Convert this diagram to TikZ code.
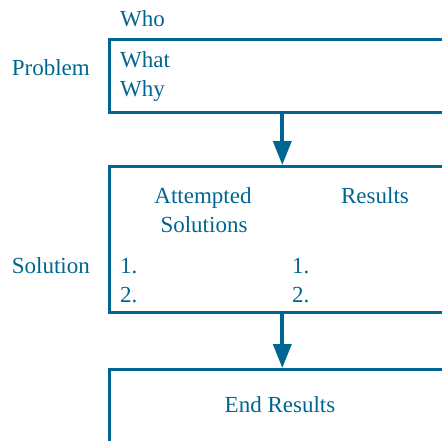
\documentclass[tikz,border=0pt]{standalone}
\usepackage{fontspec}
\setmainfont{Liberation Serif}
\usepackage{tikz}
\usetikzlibrary{arrows.meta}
\definecolor{flowblue}{RGB}{0,102,145}

\begin{document}
\begin{tikzpicture}[x=1pt,y=-1pt,
    box/.style={draw=flowblue,line width=2.6pt,rectangle,minimum width=346pt,inner sep=0pt,anchor=north west},
    lbl/.style={text=flowblue,inner sep=0pt,font=\fontsize{23}{27}\selectfont},
    flowarrow/.style={draw=flowblue,line width=3.8pt,-{Triangle[width=18pt,length=24pt]}}]
\useasboundingbox (0,0) rectangle (442,440);
% the three boxes, cut off on the right
\node[box,minimum height=73pt] (prob) at (108,38) {};
\node[box,minimum height=146pt] (sol) at (108,165) {};
\node[box,minimum height=110pt] (endres) at (108,368) {};
\begin{scope}[every node/.style={lbl}]
    \node[anchor=base west] (who) at (120,26) {Who};
    \node[anchor=base east] (problem) at (90,75) {Problem};
    \node[anchor=base west] (what) at (120,67) {What};
    \node[anchor=base west] (why) at (120,96) {Why};
    \node[anchor=base] (attempted) at (203,203) {Attempted};
    \node[anchor=base] (solutions) at (204,232) {Solutions};
    \node[anchor=base] (results) at (375,203) {Results};
    \node[anchor=base east] (solution) at (90,273) {Solution};
    \node[anchor=base west] (sone) at (120,273) {1.};
    \node[anchor=base west] (stwo) at (120,302) {2.};
    \node[anchor=base west] (rone) at (292,273) {1.};
    \node[anchor=base west] (rtwo) at (292,302) {2.};
    \node[anchor=base] (endtext) at (280,412) {End Results};
\end{scope}
\begin{scope}
    \path[flowarrow] (prob) -- (sol);
    \path[flowarrow] (sol) -- (endres);
\end{scope}
\end{tikzpicture}
\end{document}
